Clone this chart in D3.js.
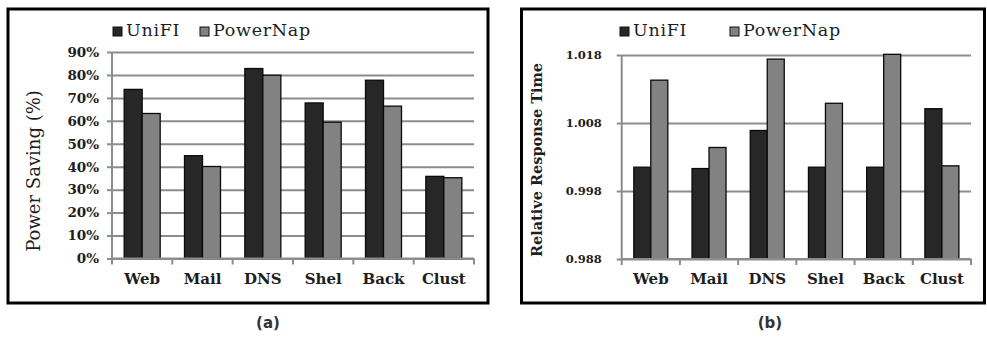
<!DOCTYPE html>
<html>
<head>
<meta charset="utf-8">
<script src="https://cdn.jsdelivr.net/npm/d3@7"></script>
<style>
  html, body { margin: 0; padding: 0; background: #fff; }
  svg { display: block; }
</style>
</head>
<body>
<svg id="chart" width="987" height="337"></svg>
<script>
// Workloads shown on both panels
const categories = ["Web", "Mail", "DNS", "Shel", "Back", "Clust"];
const seriesNames = ["UniFI", "PowerNap"];

// (a) power saving, fraction of baseline power
const savingUniFI    = [0.737, 0.448, 0.828, 0.678, 0.777, 0.358];
const savingPowerNap = [0.632, 0.401, 0.799, 0.594, 0.664, 0.352];
const savingTicks    = [0, 0.1, 0.2, 0.3, 0.4, 0.5, 0.6, 0.7, 0.8, 0.9];

// (b) response time relative to always-on
const responseUniFI    = [1.0015, 1.0013, 1.0069, 1.0015, 1.0015, 1.0101];
const responsePowerNap = [1.0143, 1.0044, 1.0174, 1.0109, 1.0181, 1.0017];
const responseTicks    = [0.988, 0.998, 1.008, 1.018];

const colors = { UniFI: "#272727", PowerNap: "#828282" };
const gridColor = "#8c8c8c";
const serif = "'DejaVu Serif', 'Liberation Serif', serif";

const svg = d3.select("#chart");

function drawPanel(opt) {
  const g = svg.append("g");

  // outer frame
  g.append("rect")
    .attr("x", opt.frame[0]).attr("y", opt.frame[1])
    .attr("width", opt.frame[2]).attr("height", opt.frame[3])
    .attr("fill", "none").attr("stroke", "#000").attr("stroke-width", 3);

  const x = d3.scaleBand().domain(categories).range([opt.left, opt.right]);
  const y = d3.scaleLinear().domain(opt.domain).range([opt.bottom, opt.top]);
  const xs = d3.scaleBand().domain(seriesNames)
    .range([x.bandwidth() / 2 - opt.barW, x.bandwidth() / 2 + opt.barW]);

  // horizontal gridlines with left ticks
  const yAxis = d3.axisLeft(y).tickValues(opt.ticks).tickFormat(opt.fmt)
    .tickSizeInner(-(opt.right - opt.left)).tickSizeOuter(0).tickPadding(0);
  const ya = g.append("g").attr("transform", `translate(${opt.left},0)`).call(yAxis);
  ya.select(".domain").remove();
  ya.selectAll(".tick line").attr("stroke", gridColor).attr("stroke-width", 2);
  ya.selectAll(".tick").append("line")
    .attr("x1", -5).attr("x2", 0)
    .attr("stroke", gridColor).attr("stroke-width", 2);
  ya.selectAll(".tick text")
    .attr("x", -opt.labelGap)
    .attr("fill", "#1e1e1e")
    .style("font-family", serif).style("font-weight", "bold")
    .style("font-size", opt.tickFont + "px");

  // vertical axis line
  g.append("line")
    .attr("x1", opt.left).attr("x2", opt.left)
    .attr("y1", opt.top).attr("y2", opt.bottom)
    .attr("stroke", gridColor).attr("stroke-width", 2);

  // bars
  const rows = categories.map((c, i) => ({ c, vals: [opt.a[i], opt.b[i]] }));
  const grp = g.selectAll(".cat").data(rows).join("g")
    .attr("transform", d => `translate(${x(d.c)},0)`);
  grp.selectAll("rect")
    .data(d => d.vals.map((v, k) => ({ name: seriesNames[k], v })))
    .join("rect")
    .attr("x", d => xs(d.name))
    .attr("width", xs.bandwidth())
    .attr("y", d => y(d.v))
    .attr("height", d => y(opt.domain[0]) - y(d.v))
    .attr("fill", d => colors[d.name])
    .attr("stroke", "#0a0a0a").attr("stroke-width", 1.3);

  // category axis with boundary ticks
  const xAxis = d3.axisBottom(x).tickSize(0).tickPadding(0);
  const xa = g.append("g").attr("transform", `translate(0,${opt.bottom})`).call(xAxis);
  xa.select(".domain").remove();
  xa.selectAll(".tick text")
    .attr("y", opt.catY - opt.bottom)
    .attr("dy", "0.35em")
    .attr("fill", "#1e1e1e")
    .style("font-family", serif).style("font-weight", "bold")
    .style("font-size", opt.catFont + "px");
  g.append("line")
    .attr("x1", opt.left).attr("x2", opt.right)
    .attr("y1", opt.bottom).attr("y2", opt.bottom)
    .attr("stroke", gridColor).attr("stroke-width", 2);
  g.selectAll(".bound").data(d3.range(categories.length + 1)).join("line")
    .attr("x1", i => opt.left + i * x.step()).attr("x2", i => opt.left + i * x.step())
    .attr("y1", opt.bottom).attr("y2", opt.bottom + 6)
    .attr("stroke", gridColor).attr("stroke-width", 2);

  // legend
  seriesNames.forEach((name, k) => {
    const lx = opt.legendX[k];
    g.append("rect")
      .attr("x", lx).attr("y", 27).attr("width", 9).attr("height", 9)
      .attr("fill", colors[name]).attr("stroke", "#111").attr("stroke-width", 1);
    g.append("text")
      .attr("x", lx + 13).attr("y", 36)
      .attr("fill", "#1e1e1e")
      .style("font-family", serif).style("font-size", "17.5px")
      .style("letter-spacing", "0.7px")
      .text(name);
  });

  // y-axis title
  g.append("text")
    .attr("transform", `translate(${opt.titleX},${opt.titleY}) rotate(-90)`)
    .attr("text-anchor", "middle").attr("dy", "0.35em")
    .attr("fill", "#1e1e1e")
    .style("font-family", serif)
    .style("font-weight", opt.titleBold ? "bold" : "normal")
    .style("font-size", opt.titleFont + "px")
    .text(opt.title);

  // panel caption
  g.append("text")
    .attr("x", opt.capX).attr("y", 323).attr("dy", "0.35em")
    .attr("text-anchor", "middle").attr("fill", "#333")
    .style("font-family", "'DejaVu Sans', sans-serif").style("font-weight", "bold")
    .style("font-size", "15px")
    .text(opt.caption);
}

drawPanel({
  frame: [8, 9, 480, 294],
  left: 112, right: 474, top: 52, bottom: 258.5,
  domain: [0, 0.9], ticks: savingTicks, fmt: d3.format(".0%"),
  a: savingUniFI, b: savingPowerNap, barW: 18,
  tickFont: 13.5, labelGap: 13, catFont: 15, catY: 279,
  legendX: [113, 200],
  title: "Power Saving (%)", titleX: 34, titleY: 171, titleFont: 18, titleBold: false,
  capX: 268, caption: "(a)"
});

drawPanel({
  frame: [521.5, 9, 463, 294],
  left: 621.7, right: 971, top: 55, bottom: 259,
  domain: [0.988, 1.018], ticks: responseTicks, fmt: d3.format(".3f"),
  a: responseUniFI, b: responsePowerNap, barW: 17,
  tickFont: 11.5, labelGap: 20, catFont: 15, catY: 279,
  legendX: [620, 730],
  title: "Relative Response Time", titleX: 537, titleY: 160, titleFont: 14.5, titleBold: true,
  capX: 770, caption: "(b)"
});
</script>
</body>
</html>
